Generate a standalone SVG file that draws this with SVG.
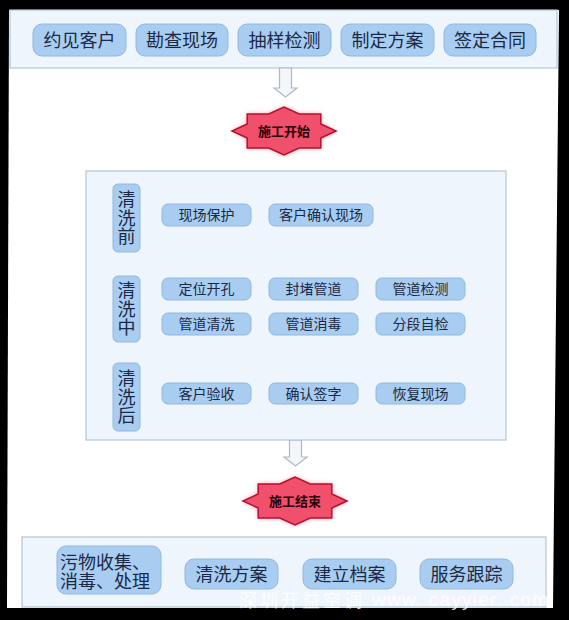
<svg xmlns="http://www.w3.org/2000/svg" width="569" height="620" viewBox="0 0 569 620">
<style>
.panel{fill:#eef5fc;stroke:#b4c6d2;stroke-width:1.2}
.btn{fill:#a9cdf1;stroke:#92b8de;stroke-width:1}
.t{font-family:"Liberation Sans","Noto Sans CJK SC",sans-serif;fill:#1a2945;text-anchor:middle}
.big{font-size:18px}
.mid{font-size:14px}
.star{fill:#f0506c;stroke:#b5102c;stroke-width:1.5}
.st{font-family:"Liberation Sans","Noto Sans CJK SC",sans-serif;font-size:13px;font-weight:bold;fill:#2a0008;text-anchor:middle}
.arr{fill:#f3f7fa;stroke:#a9b9c6;stroke-width:1.2}
.wm{font-family:"Liberation Sans","Noto Sans CJK SC",sans-serif;fill:#ffffff;fill-opacity:0.85}
</style>
<defs>
<filter id="glow" x="-30%" y="-50%" width="160%" height="200%">
<feGaussianBlur stdDeviation="2.5"/>
</filter>
<polygon id="star8" points="52,0 36.8,7 36.8,17 15.2,17 0,24 -15.2,17 -36.8,17 -36.8,7 -52,0 -36.8,-7 -36.8,-17 -15.2,-17 0,-24 15.2,-17 36.8,-17 36.8,-7"/>
</defs>
<rect x="0" y="0" width="569" height="620" fill="#000"/>
<polygon points="9,10 559,10 553,608 7,608" fill="#ffffff"/>

<g id="top-panel">
<rect class="panel" x="10" y="10" width="547" height="58"/>
<g id="n1"><rect class="btn" x="33" y="24" width="93" height="32" rx="9"/><text class="t big" x="79.5" y="46.5">约见客户</text></g>
<g id="n2"><rect class="btn" x="136" y="24" width="92" height="32" rx="9"/><text class="t big" x="182" y="46.5">勘查现场</text></g>
<g id="n3"><rect class="btn" x="238" y="24" width="93" height="32" rx="9"/><text class="t big" x="284.5" y="46.5">抽样检测</text></g>
<g id="n4"><rect class="btn" x="341" y="24" width="93" height="32" rx="9"/><text class="t big" x="387.5" y="46.5">制定方案</text></g>
<g id="n5"><rect class="btn" x="444" y="24" width="92" height="32" rx="9"/><text class="t big" x="490" y="46.5">签定合同</text></g>
</g>

<g id="connectors">
<polygon class="arr" points="279.5,68 291.5,68 291.5,88 297,88 285.5,97 274,88 279.5,88"/>
<polygon class="arr" points="289.5,440 301.5,440 301.5,457 307,457 295.5,466 284,457 289.5,457"/>
</g>

<g id="start">
<use href="#star8" transform="translate(284,131)" fill="#f58aa0" filter="url(#glow)"/>
<use href="#star8" class="star" transform="translate(284,131)"/>
<text class="st" x="284" y="135.5">施工开始</text>
</g>

<g id="mid-panel">
<rect class="panel" x="86" y="171" width="420" height="269"/>
</g>

<g id="lbl-before"><rect class="btn" x="113" y="184" width="27" height="68" rx="5"/>
<text class="t big" x="126.5" y="205.5">清</text><text class="t big" x="126.5" y="224.5">洗</text><text class="t big" x="126.5" y="243">前</text></g>
<g id="lbl-during"><rect class="btn" x="113" y="276" width="27" height="66" rx="5"/>
<text class="t big" x="126.5" y="297">清</text><text class="t big" x="126.5" y="315.5">洗</text><text class="t big" x="126.5" y="334">中</text></g>
<g id="lbl-after"><rect class="btn" x="113" y="363" width="27" height="68" rx="5"/>
<text class="t big" x="126.5" y="385">清</text><text class="t big" x="126.5" y="403.5">洗</text><text class="t big" x="126.5" y="422">后</text></g>

<g id="b1"><rect class="btn" x="162" y="204" width="89" height="22" rx="6"/><text class="t mid" x="206.5" y="220">现场保护</text></g>
<g id="b2"><rect class="btn" x="269" y="204" width="104" height="22" rx="6"/><text class="t mid" x="321" y="220">客户确认现场</text></g>

<g id="d1"><rect class="btn" x="162" y="278" width="89" height="22" rx="6"/><text class="t mid" x="206.5" y="294">定位开孔</text></g>
<g id="d2"><rect class="btn" x="269" y="278" width="89" height="22" rx="6"/><text class="t mid" x="313.5" y="294">封堵管道</text></g>
<g id="d3"><rect class="btn" x="376" y="278" width="89" height="22" rx="6"/><text class="t mid" x="420.5" y="294">管道检测</text></g>
<g id="d4"><rect class="btn" x="162" y="313" width="89" height="22" rx="6"/><text class="t mid" x="206.5" y="329">管道清洗</text></g>
<g id="d5"><rect class="btn" x="269" y="313" width="89" height="22" rx="6"/><text class="t mid" x="313.5" y="329">管道消毒</text></g>
<g id="d6"><rect class="btn" x="376" y="313" width="89" height="22" rx="6"/><text class="t mid" x="420.5" y="329">分段自检</text></g>

<g id="a1"><rect class="btn" x="162" y="383" width="89" height="21" rx="6"/><text class="t mid" x="206.5" y="398.5">客户验收</text></g>
<g id="a2"><rect class="btn" x="269" y="383" width="89" height="21" rx="6"/><text class="t mid" x="313.5" y="398.5">确认签字</text></g>
<g id="a3"><rect class="btn" x="376" y="383" width="89" height="21" rx="6"/><text class="t mid" x="420.5" y="398.5">恢复现场</text></g>

<g id="end">
<use href="#star8" transform="translate(295,501)" fill="#f58aa0" filter="url(#glow)"/>
<use href="#star8" class="star" transform="translate(295,501)"/>
<text class="st" x="295" y="505.5">施工结束</text>
</g>

<g id="bottom-panel">
<rect class="panel" x="22" y="537" width="524" height="70"/>
<g id="e1"><rect class="btn" x="57" y="546" width="104" height="48" rx="9"/>
<text class="t big" x="60" y="569" style="text-anchor:start">污物收集、</text>
<text class="t big" x="60" y="588" style="text-anchor:start">消毒、处理</text></g>
<g id="e2"><rect class="btn" x="185" y="559" width="93" height="30" rx="9"/><text class="t big" x="231.5" y="580.5">清洗方案</text></g>
<g id="e3"><rect class="btn" x="303" y="559" width="93" height="30" rx="9"/><text class="t big" x="349.5" y="580.5">建立档案</text></g>
<g id="e4"><rect class="btn" x="420" y="559" width="93" height="30" rx="9"/><text class="t big" x="466.5" y="580.5">服务跟踪</text></g>
</g>

<g id="watermark">
<text class="wm" x="239" y="607" font-size="18" letter-spacing="3">深圳开益空调</text>
<text class="wm" x="372" y="606" font-size="19" textLength="176" lengthAdjust="spacing">www. cayyier. com</text>
</g>
</svg>
